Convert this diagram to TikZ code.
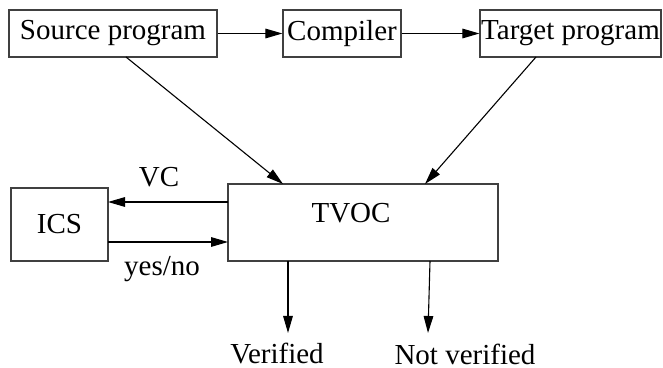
\documentclass[tikz,border=0pt]{standalone}
\usepackage{fontspec}
\setmainfont{Liberation Serif}
\usetikzlibrary{arrows.meta}
\begin{document}
\begin{tikzpicture}[x=0.5pt,y=-0.5pt,
  every node/.style={font=\fontsize{14.5}{17}\selectfont},
  box/.style={draw=black!75,line width=0.6pt,inner sep=0pt,anchor=center},
  lbl/.style={inner sep=0pt,anchor=center},
  link/.style={line width=0.55pt,-{Triangle[length=8.5pt,width=4.8pt]}}]
\useasboundingbox (0,0) rectangle (663,368);
% top row: compilation chain
\node[box,minimum width=104pt,minimum height=23.5pt] (src) at (113,33.5) {Source program};
\node[box,minimum width=59pt,minimum height=23.5pt] (comp) at (342,33.5) {Compiler};
\node[box,minimum width=90.5pt,minimum height=23.5pt] (tgt) at (570.5,33.5) {Target program};
% validation stage
\node[box,minimum width=48.5pt,minimum height=36.5pt] (ics) at (59.5,224.5) {ICS};
\node[box,minimum width=135pt,minimum height=38.5pt] (tvoc) at (363,222.5) {};
\node[lbl] (tvoctxt) at (351,213) {TVOC};
% labels
\node[lbl] (vc) at (159,177.5) {VC};
\node[lbl] (yn) at (162,269) {yes/no};
\node[lbl] (ver) at (277,354) {Verified};
\node[lbl] (nver) at (465,354) {Not verified};
% connector end points
\coordinate (srcout) at (126,57);
\coordinate (tgtout) at (536,57);
\coordinate (tvinA) at (283,184);
\coordinate (tvinB) at (425,184);
\coordinate (vcL) at (108,202);
\coordinate (vcR) at (228,202);
\coordinate (ynL) at (108,242);
\coordinate (ynR) at (228,242);
\coordinate (verTop) at (288,261);
\coordinate (verEnd) at (288,333);
\coordinate (nverTop) at (430,261);
\coordinate (nverEnd) at (428,333);
% connectors
\draw[link] (src.east) -- (comp.west);
\draw[link] (comp.east) -- (tgt.west);
\draw[link] (srcout) -- (tvinA);
\draw[link] (tgtout) -- (tvinB);
\draw[link] (vcR) -- (vcL);
\draw[link] (ynL) -- (ynR);
\draw[link] (verTop) -- (verEnd);
\draw[link] (nverTop) -- (nverEnd);
\end{tikzpicture}
\end{document}
